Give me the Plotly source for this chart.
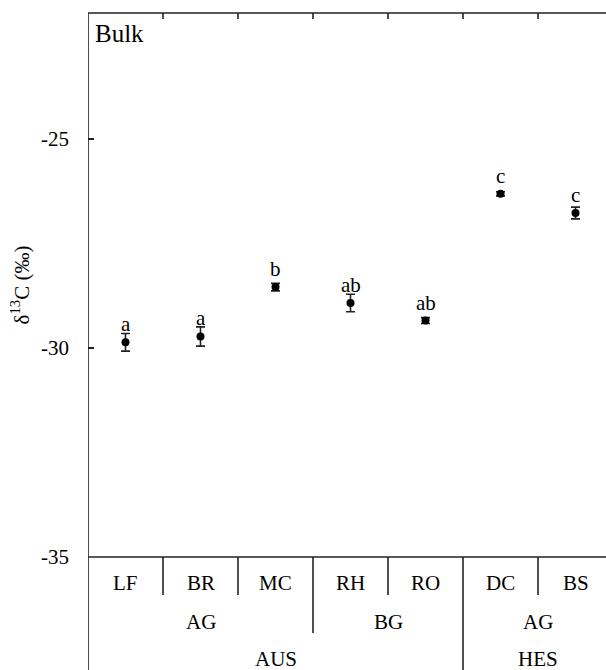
import plotly.graph_objects as go

categories = ["LF", "BR", "MC", "RH", "RO", "DC", "BS"]
means = [-29.87, -29.73, -28.55, -28.93, -29.35, -26.32, -26.78]
errors = [0.21, 0.23, 0.09, 0.21, 0.07, 0.05, 0.14]
letters = ["a", "a", "b", "ab", "ab", "c", "c"]
tier2_labels = ["AG", "BG", "AG"]
tier2_spans = [(0, 2), (3, 4), (5, 6)]
tier3_labels = ["AUS", "HES"]
tier3_spans = [(0, 4), (5, 6)]
y_ticks = [-25, -30, -35]

W, H = 606, 670
ML, MT, MB = 88, 13, 113
PH = H - MT - MB
CW = 75.0
FONT = "Liberation Serif"
LC = "#222"

def py(ypix):
    return (H - MB - ypix) / PH

x = list(range(len(categories)))
xmax = -0.5 + (W - ML) / CW

fig = go.Figure()
fig.add_trace(go.Scatter(
    x=x, y=means, mode="markers",
    marker=dict(color="black", size=8),
    error_y=dict(type="data", array=errors, visible=True, color=LC, thickness=1.6, width=4.5),
    showlegend=False, hoverinfo="skip",
))

ann = []
for xi, m, l in zip(x, means, letters):
    ann.append(dict(x=xi, y=m, text=l, showarrow=False, yanchor="bottom", yshift=4,
                    font=dict(family=FONT, size=21, color="black")))
for xi, c in zip(x, categories):
    ann.append(dict(x=xi, y=py(583), yref="paper", text=c, showarrow=False,
                    xanchor="center", yanchor="middle",
                    font=dict(family=FONT, size=21, color="black")))
for lab, (a, b) in zip(tier2_labels, tier2_spans):
    ann.append(dict(x=(a + b) / 2, y=py(622), yref="paper", text=lab, showarrow=False,
                    xanchor="center", yanchor="middle",
                    font=dict(family=FONT, size=21, color="black")))
for lab, (a, b) in zip(tier3_labels, tier3_spans):
    ann.append(dict(x=(a + b) / 2, y=py(659), yref="paper", text=lab, showarrow=False,
                    xanchor="center", yanchor="middle",
                    font=dict(family=FONT, size=21, color="black")))
ann.append(dict(x=-0.5, y=1, yref="paper", xanchor="left", yanchor="top", xshift=5, yshift=-5,
                text="Bulk", showarrow=False, font=dict(family=FONT, size=25, color="black")))

shapes = []
def line(x0, y0, x1, y1):
    shapes.append(dict(type="line", x0=x0, x1=x1, y0=y0, y1=y1, xref="x", yref="paper",
                       line=dict(color=LC, width=1.6)))

# frame top and bottom
line(-0.5, 1, xmax, 1)
line(-0.5, 0, xmax, 0)
# left border extended through table
line(-0.5, 1, -0.5, py(H))
# top inward ticks
for b in [0.5, 1.5, 2.5, 3.5, 4.5, 5.5]:
    line(b, 1, b, py(MT + 6))
# table separators
for b in [0.5, 1.5, 3.5, 5.5]:
    line(b, 0, b, py(595))
line(2.5, 0, 2.5, py(633))
line(4.5, 0, 4.5, py(H))

fig.update_layout(
    width=W, height=H,
    margin=dict(l=ML, r=0, t=MT, b=MB),
    paper_bgcolor="white", plot_bgcolor="white",
    annotations=ann, shapes=shapes,
    xaxis=dict(range=[-0.5, xmax], showgrid=False, zeroline=False, showticklabels=False,
               showline=False, ticks=""),
    yaxis=dict(range=[-35, -22], tickvals=y_ticks, ticktext=[str(v) for v in y_ticks],
               showgrid=False, zeroline=False, showline=False, ticks="inside", ticklen=6,
               tickwidth=1.6, tickcolor=LC, ticklabelstandoff=18,
               tickfont=dict(family=FONT, size=21, color="black"),
               title=dict(text="δ<sup>13</sup>C (‰)", standoff=5,
                          font=dict(family=FONT, size=21, color="black"))),
)
fig.write_html("out.html", config={"displayModeBar": False},
               post_script="document.body.style.margin='0';")
